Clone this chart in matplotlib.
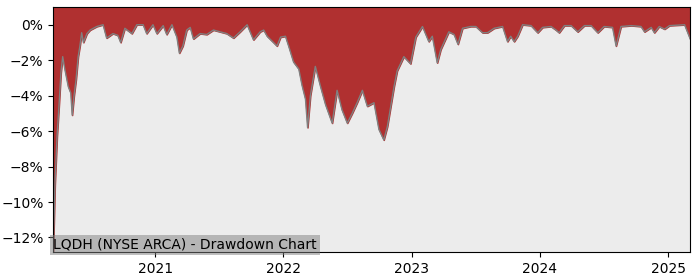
import pandas as pd
import matplotlib
matplotlib.use("Agg")
import matplotlib.pyplot as plt
import matplotlib.dates as mdates
from matplotlib.ticker import PercentFormatter

# Drawdown values (%)
dates = [
    "2020-03-17", "2020-03-22", "2020-03-26", "2020-03-28", "2020-04-03", "2020-04-08",
    "2020-04-13", "2020-04-19", "2020-04-29", "2020-05-06", "2020-05-10", "2020-05-15",
    "2020-05-21", "2020-05-27", "2020-06-01", "2020-06-06", "2020-06-11", "2020-06-21",
    "2020-06-30", "2020-07-19", "2020-08-06", "2020-08-16", "2020-09-03", "2020-09-17",
    "2020-09-25", "2020-10-07", "2020-10-27", "2020-11-10", "2020-11-28", "2020-12-08",
    "2020-12-26", "2021-01-06", "2021-01-24", "2021-02-03", "2021-02-18", "2021-03-04",
    "2021-03-11", "2021-03-21", "2021-04-01", "2021-04-11", "2021-04-20", "2021-05-09",
    "2021-05-28", "2021-06-16", "2021-07-05", "2021-07-24", "2021-08-12", "2021-08-31",
    "2021-09-20", "2021-10-08", "2021-10-27", "2021-11-06", "2021-11-16", "2021-12-04",
    "2021-12-14", "2021-12-24", "2022-01-07", "2022-01-16", "2022-01-30", "2022-02-14",
    "2022-02-23", "2022-03-05", "2022-03-11", "2022-03-19", "2022-04-02", "2022-04-17",
    "2022-05-01", "2022-05-20", "2022-06-03", "2022-06-17", "2022-07-02", "2022-07-16",
    "2022-07-30", "2022-08-14", "2022-08-28", "2022-09-16", "2022-09-30", "2022-10-14",
    "2022-10-24", "2022-11-12", "2022-11-21", "2022-12-10", "2022-12-29", "2023-01-13",
    "2023-02-01", "2023-02-19", "2023-03-01", "2023-03-15", "2023-03-25", "2023-04-17",
    "2023-05-02", "2023-05-13", "2023-05-26", "2023-06-18", "2023-07-03", "2023-07-22",
    "2023-08-05", "2023-08-24", "2023-09-17", "2023-10-01", "2023-10-10", "2023-10-20",
    "2023-10-30", "2023-11-13", "2023-12-07", "2023-12-26", "2024-01-09", "2024-02-02",
    "2024-02-16", "2024-02-25", "2024-03-11", "2024-03-30", "2024-04-18", "2024-05-07",
    "2024-05-26", "2024-06-14", "2024-07-02", "2024-07-26", "2024-08-05", "2024-08-19",
    "2024-09-17", "2024-10-15", "2024-10-25", "2024-11-13", "2024-11-22", "2024-12-06",
    "2024-12-21", "2025-01-04", "2025-02-16", "2025-03-04",
]
drawdown = [
    -12.8, -9.0, -7.2, -6.3, -4.4, -2.7,
    -1.8, -2.5, -3.5, -3.85, -5.1, -4.05,
    -3.1, -1.8, -1.2, -0.45, -1.0, -0.5,
    -0.3, -0.1, 0.0, -0.75, -0.5, -0.6,
    -1.0, -0.2, -0.5, 0.0, 0.0, -0.5,
    0.0, -0.5, -0.05, -0.55, 0.0, -0.7,
    -1.6, -1.2, -0.3, -0.15, -0.8, -0.5,
    -0.55, -0.3, -0.4, -0.5, -0.75, -0.4,
    0.0, -0.85, -0.4, -0.3, -0.65, -1.0,
    -1.2, -0.7, -0.65, -1.2, -2.1, -2.5,
    -3.4, -4.2, -5.8, -4.0, -2.35, -3.5,
    -4.5, -5.55, -3.7, -4.8, -5.55, -5.0,
    -4.4, -3.7, -4.6, -4.4, -5.9, -6.5,
    -5.75, -3.5, -2.6, -1.8, -2.2, -0.7,
    -0.1, -0.95, -0.65, -2.15, -1.4, -0.4,
    -0.55, -1.1, -0.2, -0.1, -0.1, -0.45,
    -0.45, -0.2, -0.1, -0.95, -0.65, -0.95,
    -0.65, 0.0, -0.05, -0.45, -0.15, -0.1,
    -0.3, -0.45, -0.05, -0.05, -0.4, -0.05,
    -0.05, -0.45, -0.1, -0.15, -1.2, -0.1,
    -0.05, -0.1, -0.4, -0.15, -0.45, -0.1,
    -0.25, -0.05, 0.0, -0.8,
]

df = pd.DataFrame({"Date": pd.to_datetime(dates), "Drawdown": drawdown})
y_top = 1.0
y_bottom = -12.82

fig = plt.figure(figsize=(7, 2.8), dpi=100)
ax = fig.add_axes([0.076, 0.1, 0.91, 0.875])
ax.set_facecolor("#ececec")

ax.fill_between(df["Date"], df["Drawdown"], y_top, color="#b03030")
ax.plot(df["Date"], df["Drawdown"], color="gray", linewidth=1)

ax.set_ylim(y_bottom, y_top)
ax.set_xlim(df["Date"].iloc[0], df["Date"].iloc[-1])
ax.set_yticks([0, -2, -4, -6, -8, -10, -12])
ax.yaxis.set_major_formatter(PercentFormatter(decimals=0))
ax.xaxis.set_major_locator(mdates.YearLocator())
ax.xaxis.set_major_formatter(mdates.DateFormatter("%Y"))

ax.text(0.0, 0.0, "LQDH (NYSE ARCA) - Drawdown Chart", transform=ax.transAxes,
        fontsize=10, ha="left", va="bottom",
        bbox=dict(facecolor="gray", alpha=0.5, edgecolor="none", pad=2))

fig.savefig("out.png", dpi=100)
